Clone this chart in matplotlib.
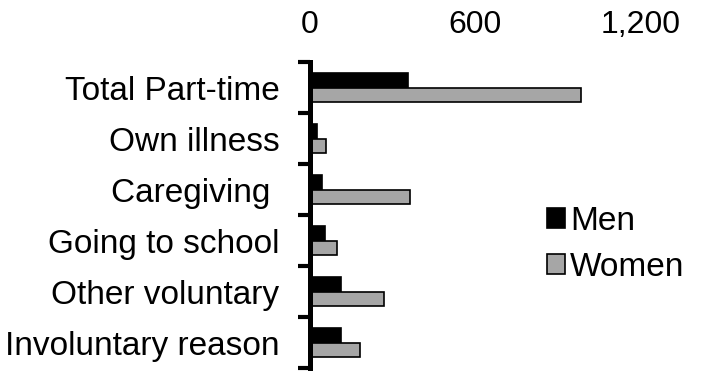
import matplotlib
matplotlib.use("Agg")
import matplotlib.pyplot as plt
import numpy as np
from matplotlib.ticker import FuncFormatter

categories = ["Total Part-time", "Own illness", "Caregiving ", "Going to school",
              "Other voluntary", "Involuntary reason"]
men = [355, 25, 44, 55, 114, 114]
women = [985, 57, 364, 100, 269, 184]
xticks = [0, 600, 1200]

plt.rcParams['font.family'] = ['Liberation Sans', 'DejaVu Sans']

fig = plt.figure(figsize=(7.09, 3.86), dpi=100)
ax = fig.add_axes([0.437, 0.0466, 0.466, 0.7927])

n = len(categories)
y = np.arange(n)
h = 0.285
ax.barh(y - h / 2, men, height=h, color="black", edgecolor="black", linewidth=1.2, label="Men")
ax.barh(y + h / 2, women, height=h, color="#a6a6a6", edgecolor="black", linewidth=1.2, label="Women")

ax.set_ylim(n - 0.5, -0.5)
ax.set_xlim(0, 1200)

ax.set_yticks(y)
ax.set_yticklabels(categories, fontsize=24)
ax.set_yticks(np.arange(n + 1) - 0.5, minor=True)
ax.tick_params(axis="y", which="major", length=0, pad=22)
ax.tick_params(axis="y", which="minor", length=8.5, width=3, color="black")

ax.xaxis.tick_top()
ax.set_xticks(xticks)
ax.xaxis.set_major_formatter(FuncFormatter(lambda v, p: f"{int(v):,}"))
ax.tick_params(axis="x", length=0, labelsize=23, pad=16)

for s in ["top", "right", "bottom"]:
    ax.spines[s].set_visible(False)
ax.spines["left"].set_linewidth(3.6)

leg = fig.legend(loc="upper left", bbox_to_anchor=(0.771, 0.466), frameon=False,
                 fontsize=24, handlelength=0.55, handleheight=0.55, handletextpad=0.15,
                 labelspacing=0.45, borderaxespad=0, borderpad=0)

fig.savefig("out.png", dpi=100)
